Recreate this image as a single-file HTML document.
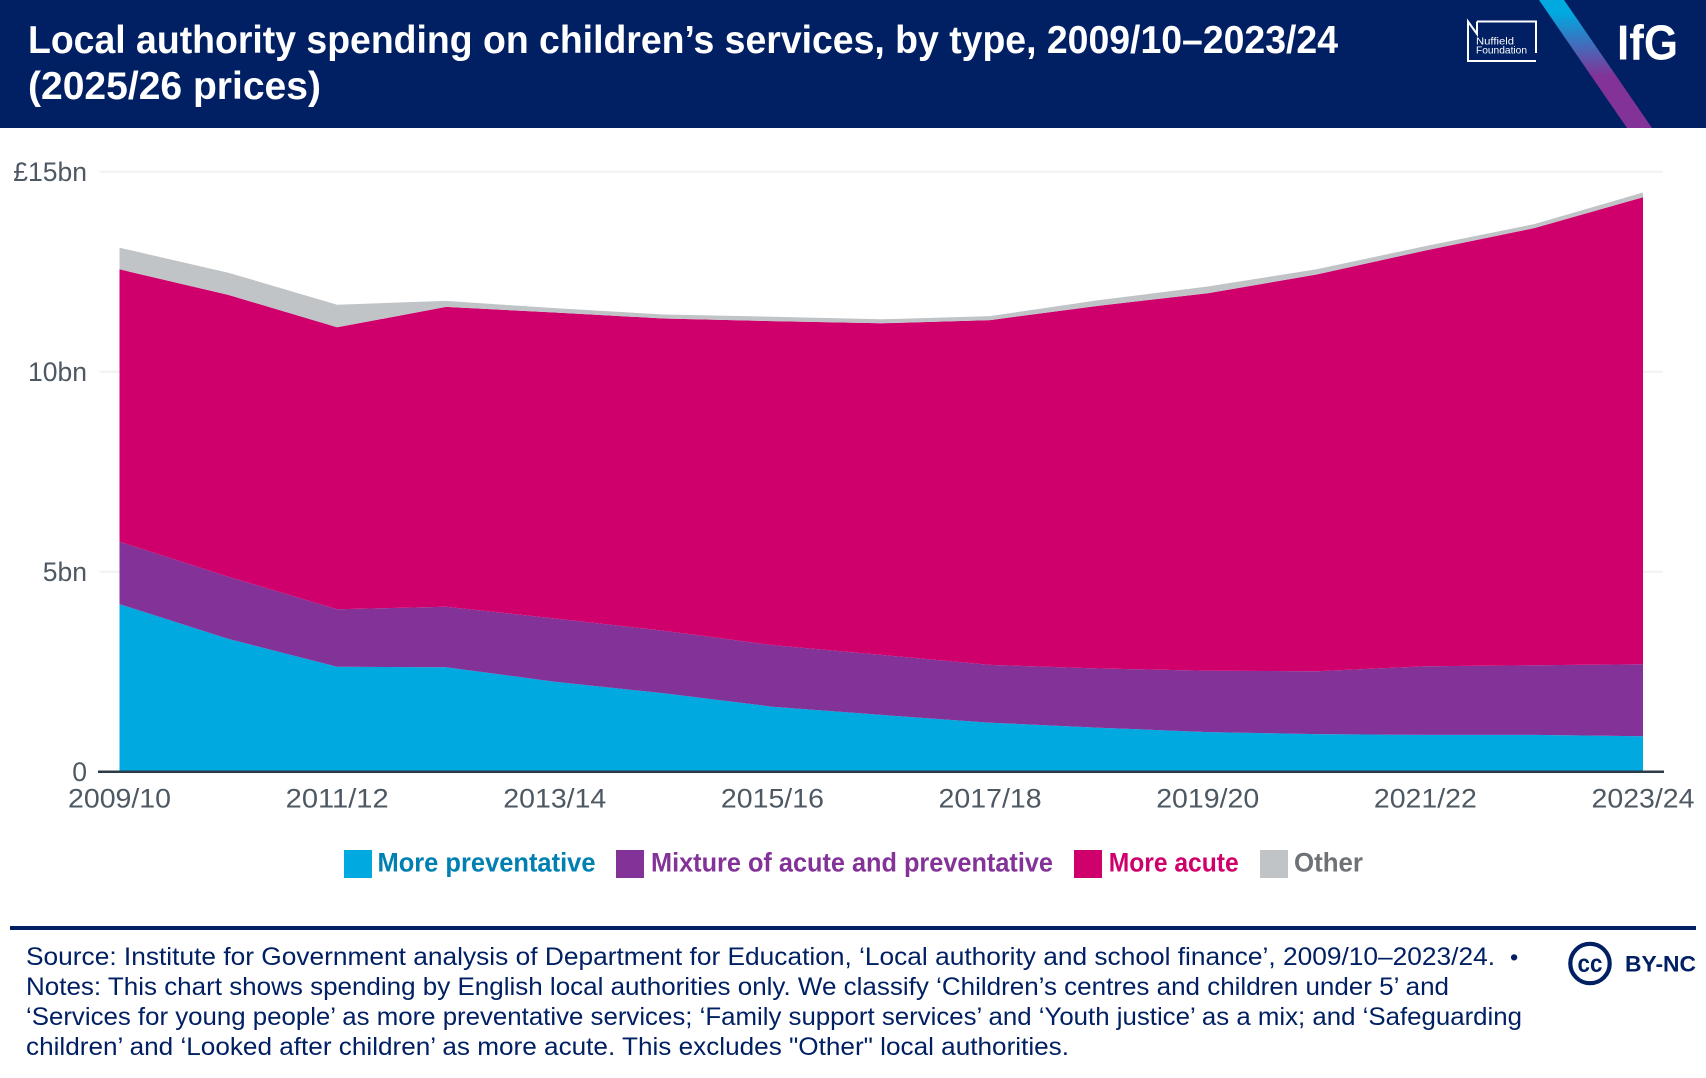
<!DOCTYPE html>
<html lang="en">
<head>
<meta charset="utf-8">
<title>Local authority spending on children's services</title>
<style>
html,body{margin:0;padding:0;background:#fff;}
svg{display:block;font-family:"Liberation Sans",sans-serif;}
</style>
</head>
<body>
<svg id="chart" xmlns="http://www.w3.org/2000/svg" width="1706" height="1078" viewBox="0 0 1706 1078">
  <defs>
    <linearGradient id="bandGrad" x1="0" y1="0" x2="0" y2="128" gradientUnits="userSpaceOnUse">
      <stop offset="0.1" stop-color="#00a9e0"/>
      <stop offset="0.6" stop-color="#833297"/>
      <stop offset="1" stop-color="#833297"/>
    </linearGradient>
  </defs>
  <rect width="1706" height="1078" fill="#fff"/>
  <g>
    <rect width="1706" height="128" fill="#012064"/>
    <text x="28" y="53" font-size="38.5" font-weight="700" fill="#fff" textLength="1310" lengthAdjust="spacingAndGlyphs">Local authority spending on children’s services, by type, 2009/10–2023/24</text>
    <text x="28" y="99" font-size="38.5" font-weight="700" fill="#fff" textLength="293" lengthAdjust="spacingAndGlyphs">(2025/26 prices)</text>
    <g>
      <path d="M1477 21.5H1536V53M1536 61H1468V21.5L1477 34V21.5" fill="none" stroke="#fff" stroke-width="2"/>
      <text x="1476" y="44.7" font-size="10.5" font-weight="400" fill="#fff" textLength="38" lengthAdjust="spacingAndGlyphs">Nuffield</text>
      <text x="1476" y="53.7" font-size="10.5" font-weight="400" fill="#fff" textLength="51" lengthAdjust="spacingAndGlyphs">Foundation</text>
    </g>
    <polygon points="1539,0 1564,0 1652,128 1627,128" fill="url(#bandGrad)"/>
    <text x="1617" y="59.5" font-size="49" font-weight="700" fill="#fff" textLength="61" lengthAdjust="spacingAndGlyphs">IfG</text>
  </g>
  <g id="plot"></g>
  <g font-size="26.5" font-weight="700">
    <g>
      <rect x="344" y="850" width="28" height="28" fill="#00a9e0"/>
      <text x="377.5" y="871.7" fill="#0080b2" textLength="218" lengthAdjust="spacingAndGlyphs">More preventative</text>
    </g>
    <g>
      <rect x="616" y="850" width="28" height="28" fill="#833297"/>
      <text x="651" y="871.7" fill="#833297" textLength="402" lengthAdjust="spacingAndGlyphs">Mixture of acute and preventative</text>
    </g>
    <g>
      <rect x="1074" y="850" width="28" height="28" fill="#cf006c"/>
      <text x="1108.7" y="871.7" fill="#cf006c" textLength="130" lengthAdjust="spacingAndGlyphs">More acute</text>
    </g>
    <g>
      <rect x="1260" y="850" width="28" height="28" fill="#c0c4c7"/>
      <text x="1294" y="871.7" fill="#6e7175" textLength="69" lengthAdjust="spacingAndGlyphs">Other</text>
    </g>
  </g>
  <rect x="10" y="926" width="1686" height="4" fill="#012064"/>
  <g font-size="25" fill="#012064">
    <text x="26" y="965" textLength="1469" lengthAdjust="spacingAndGlyphs">Source: Institute for Government analysis of Department for Education, ‘Local authority and school finance’, 2009/10–2023/24.</text>
    <text x="1510" y="965" font-size="23.5">•</text>
    <text x="26" y="995" textLength="1423" lengthAdjust="spacingAndGlyphs">Notes: This chart shows spending by English local authorities only. We classify ‘Children’s centres and children under 5’ and</text>
    <text x="26" y="1025" textLength="1496" lengthAdjust="spacingAndGlyphs">‘Services for young people’ as more preventative services; ‘Family support services’ and ‘Youth justice’ as a mix; and ‘Safeguarding</text>
    <text x="26" y="1055" textLength="1043" lengthAdjust="spacingAndGlyphs">children’ and ‘Looked after children’ as more acute. This excludes "Other" local authorities.</text>
  </g>
  <g>
    <circle cx="1590" cy="963.5" r="19.7" fill="none" stroke="#012064" stroke-width="4.2"/>
    <text x="1590" y="972" font-size="25" font-weight="700" fill="#012064" text-anchor="middle" textLength="25" lengthAdjust="spacingAndGlyphs">cc</text>
    <text x="1625" y="971.7" font-size="22" font-weight="700" fill="#012064" textLength="71" lengthAdjust="spacingAndGlyphs">BY-NC</text>
  </g>
</svg>
<script>
const categories = ["2009/10","2010/11","2011/12","2012/13","2013/14","2014/15","2015/16","2016/17","2017/18","2018/19","2019/20","2020/21","2021/22","2022/23","2023/24"];
const morePreventative = [4.19,3.32,2.625,2.61,2.25,1.96,1.625,1.42,1.225,1.1,0.99,0.94,0.92,0.92,0.885];
const mixture = [1.56,1.555,1.435,1.515,1.58,1.565,1.54,1.5,1.445,1.48,1.535,1.57,1.715,1.74,1.8];
const moreAcute = [6.81,7.045,7.05,7.495,7.65,7.805,8.1,8.29,8.62,9.07,9.435,9.92,10.395,10.93,11.675];
const other = [0.54,0.555,0.565,0.15,0.11,0.1,0.11,0.1,0.1,0.14,0.17,0.13,0.11,0.1,0.12];
const yTickValues = [0,5,10,15];
const yTickLabels = ["0","5bn","10bn","£15bn"];

const NS = "http://www.w3.org/2000/svg";
const plot = document.getElementById("plot");
const xLeft = 119.5, xRight = 1643, yZero = 771.7, pxPerBn = 40;
function xScale(i){ return xLeft + i * (xRight - xLeft) / (categories.length - 1); }
function yScale(v){ return yZero - v * pxPerBn; }
function make(tag, attrs){
  const el = document.createElementNS(NS, tag);
  for (const k in attrs) el.setAttribute(k, attrs[k]);
  return el;
}

yTickValues.forEach(function(v, i){
  if (v !== 0) {
    const grid = make("line", {x1: 99.5, x2: 1663, y1: yScale(v), y2: yScale(v), stroke: "#f1f1f1", "stroke-width": 2});
    
    
    plot.appendChild(grid);
  }
  const label = make("text", {x: 87, y: yScale(v) + 9.5, "font-size": 26.5, fill: "#4d5863", "text-anchor": "end"});
  
  
  label.textContent = yTickLabels[i];
  plot.appendChild(label);
});

const seriesList = [
  {values: morePreventative, color: "#00a9e0"},
  {values: mixture, color: "#833297"},
  {values: moreAcute, color: "#cf006c"},
  {values: other, color: "#c0c4c7"}
];
let base = categories.map(function(){ return 0; });
seriesList.forEach(function(s){
  const top = s.values.map(function(v, i){ return base[i] + v; });
  const upper = top.map(function(v, i){ return xScale(i).toFixed(2) + "," + yScale(v).toFixed(2); });
  const lower = base.map(function(v, i){ return xScale(i).toFixed(2) + "," + yScale(v).toFixed(2); }).reverse();
  const area = make("polygon", {points: upper.concat(lower).join(" "), fill: s.color});
  
  
  plot.appendChild(area);
  base = top;
});

const axis = make("line", {x1: 98, x2: 1664, y1: yZero, y2: yZero, stroke: "#2c3b4a", "stroke-width": 2.5});


plot.appendChild(axis);

categories.forEach(function(c, i){
  if (i % 2 !== 0) return;
  const label = make("text", {x: xScale(i), y: 807.7, "font-size": 26.5, fill: "#4d5863", "text-anchor": "middle", textLength: 103, lengthAdjust: "spacingAndGlyphs"});
  
  
  label.textContent = c;
  plot.appendChild(label);
});
</script>
</body>
</html>
